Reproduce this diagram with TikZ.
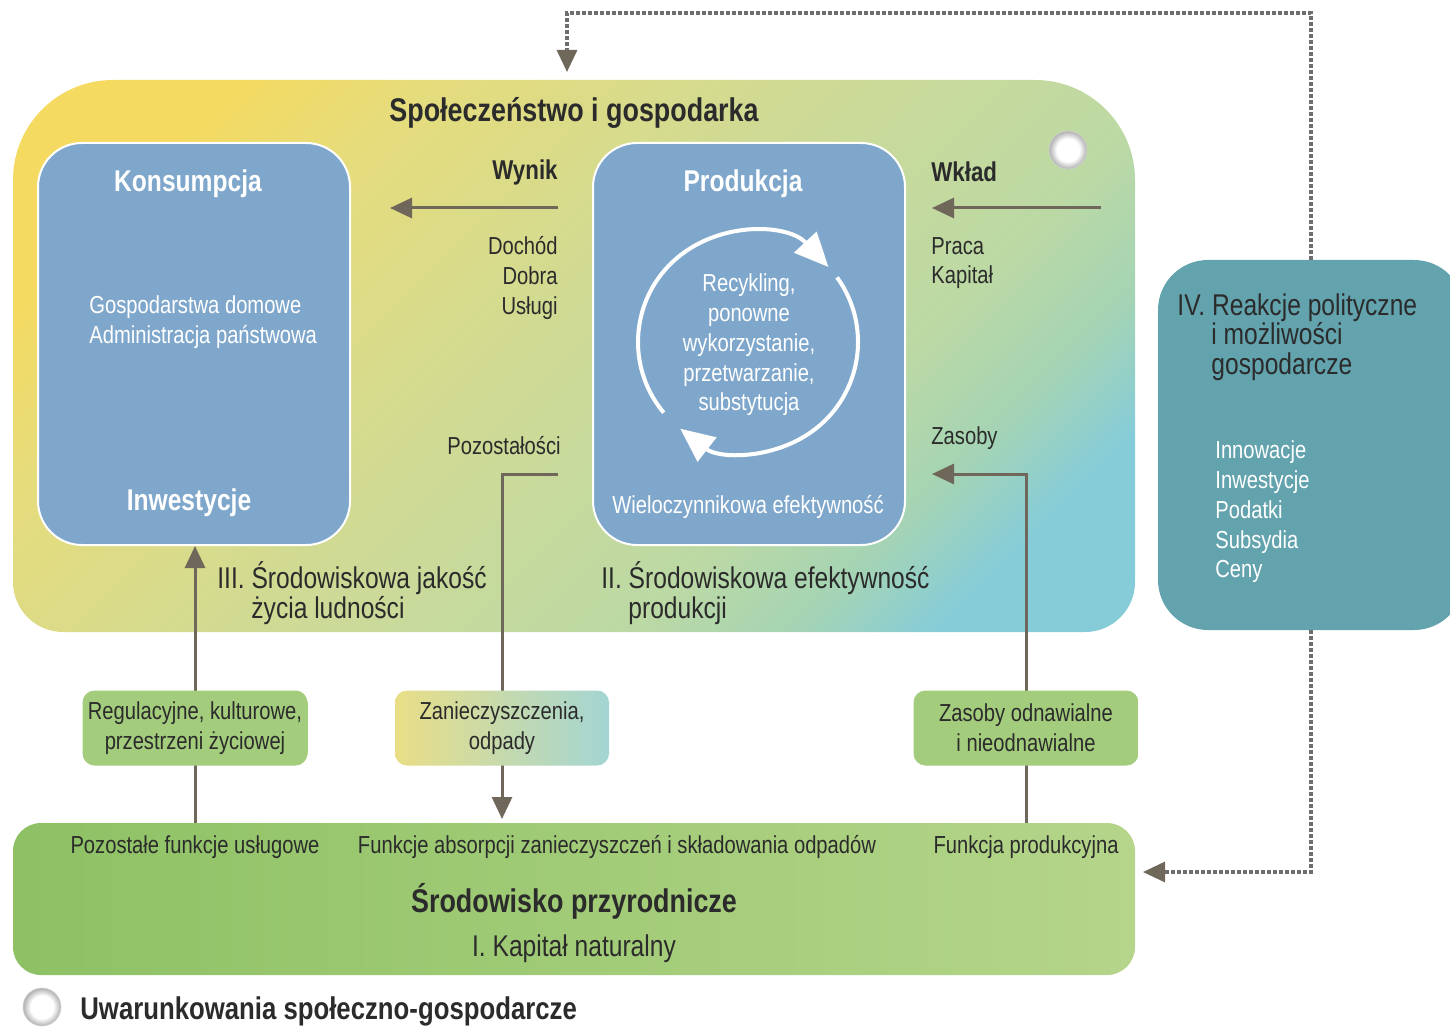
\documentclass[tikz,border=0pt]{standalone}
\usepackage{fontspec}
\setmainfont{Liberation Sans}[FakeStretch=0.82]
\usetikzlibrary{arrows.meta,calc}
\definecolor{cyel}{HTML}{F4DA60}
\definecolor{cy2}{HTML}{E6DC7C}
\definecolor{cgrn}{HTML}{CDDA97}
\definecolor{cg2}{HTML}{BCD9A4}
\definecolor{cgt}{HTML}{A5D4B4}
\definecolor{ctea}{HTML}{86CCD8}
\definecolor{cblue}{HTML}{7FA7CB}
\definecolor{cteal}{HTML}{62A3AE}
\definecolor{carr}{HTML}{6F6759}
\definecolor{ctxt}{HTML}{2B2B2B}
\definecolor{cdot}{HTML}{6E6E6E}
\definecolor{cgA}{HTML}{A3CC7C}
\definecolor{cgB}{HTML}{D2E5B5}
\definecolor{czY}{HTML}{E9DE86}
\definecolor{czM}{HTML}{DCE6BC}
\definecolor{czT}{HTML}{A3D5D3}
\definecolor{cbotL}{HTML}{8DC164}
\definecolor{cbotR}{HTML}{B5D58A}
\definecolor{cballe}{HTML}{B0B0B0}
\pgfdeclarehorizontalshading{mainsh}{100bp}{color(0bp)=(cyel); color(24bp)=(cyel); color(32bp)=(cy2); color(50bp)=(cgrn); color(64bp)=(cg2); color(71bp)=(cgt); color(77bp)=(ctea); color(100bp)=(ctea)}
\pgfdeclareradialshading{ballsh}{\pgfpoint{0bp}{0bp}}{color(0bp)=(white); color(15bp)=(white); color(25bp)=(cballe); color(50bp)=(cballe)}
\newcommand\lblf{\fontsize{12.3}{14.9}\selectfont}
\newcommand\medf{\fontsize{15}{14.8}\selectfont}
\newcommand\ttlf{\fontsize{15}{18}\selectfont\bfseries}
\newcommand\bigttlf{\fontsize{16.4}{18}\selectfont\bfseries}
\newcommand\subf{\fontsize{13.6}{16}\selectfont\bfseries}
\tikzset{
  bluebox/.style={draw=white, line width=1pt, fill=cblue, rounded corners=22pt, minimum width=156pt, minimum height=201pt, inner sep=0pt},
  smallbox/.style={rounded corners=6pt, minimum width=112.5pt, minimum height=37.5pt, align=center, inner sep=0pt, font=\lblf, text=ctxt},
  greenbox/.style={smallbox, left color=cgA, middle color=cgB, right color=cgA},
  arr/.style={draw=carr, line width=1.5pt, -{Triangle[length=11pt,width=10pt]}},
  ln/.style={draw=carr, line width=1.5pt},
  dotarr/.style={draw=cdot, line width=1.6pt, dash pattern=on 1.6pt off 1.4pt, -{Triangle[length=11pt,width=10pt,color=carr]}},
  cyc/.style={draw=white, line width=2pt, -{Triangle[length=17pt,width=15pt]}},
  lbl/.style={font=\lblf, text=ctxt, inner sep=0pt},
  wlbl/.style={font=\lblf, text=white, inner sep=0pt},
  med/.style={font=\medf, text=ctxt, inner sep=0pt},
  ttl/.style={font=\ttlf, text=ctxt, inner sep=0pt},
  bttl/.style={font=\bigttlf, text=ctxt, inner sep=0pt},
  wttl/.style={font=\ttlf, text=white, inner sep=0pt},
  sub/.style={font=\subf, text=ctxt, inner sep=0pt},
  ball/.style={shading=ballsh, draw=gray!35, line width=0.3pt}
}
\begin{document}
\begin{tikzpicture}[x=0.5pt, y=-0.5pt]
\useasboundingbox (0,0) rectangle (1450,1027);

% main box
\shade[shading=mainsh, shading angle=-45]
  (13,400) [rounded corners=25pt] -- (13,632) -- (1135,632) -- (1135,400)
  [rounded corners=50pt] -- (1135,80) -- (13,80) -- (13,400) -- cycle;
\node[bttl] (sg) at (574,113) {Społeczeństwo i gospodarka};
\shade[ball] (1068,150) circle[radius=9.5pt];

% blue boxes
\node[bluebox] (kons) at (194,344) {};
\node[bluebox] (prod) at (749,344) {};
\node[wttl] (konst) at (188,184) {Konsumpcja};
\node[wlbl, anchor=west, align=left] (gosp) at (89,322) {Gospodarstwa domowe\\Administracja państwowa};
\node[wttl] (inw) at (189,503) {Inwestycje};
\node[wttl] (prodt) at (743,184) {Produkcja};
\node[wlbl] (wiel) at (748,507) {Wieloczynnikowa efektywność};

% cycle
\coordinate (cc) at (748,342);
\node[wlbl, align=center] (rec) at (749,345) {Recykling,\\ponowne\\wykorzystanie,\\przetwarzanie,\\substytucja};
\draw[cyc] ([shift={(220:55pt)}]cc) arc[start angle=220, end angle=43, radius=55pt];
\draw[cyc] ([shift={(36:55pt)}]cc) arc[start angle=36, end angle=-128, radius=55pt];

% labels in main box
\node[sub, anchor=east] (wyn) at (558,172) {Wynik};
\node[lbl, anchor=east, align=right] (doch) at (558,278) {Dochód\\Dobra\\Usługi};
\node[sub, anchor=west] (wkl) at (931,172) {Wkład};
\node[lbl, anchor=west, align=left] (prac) at (931,263) {Praca\\Kapitał};
\node[lbl, anchor=east] (pozl) at (561,446) {Pozostałości};
\node[lbl, anchor=west] (zasl) at (931,438) {Zasoby};
\node[med, anchor=west, align=left] (iii) at (217,593) {III. Środowiskowa jakość\\\hspace*{17pt}życia ludności};
\node[med, anchor=west, align=left] (ii) at (601,593) {II. Środowiskowa efektywność\\\hspace*{13.5pt}produkcji};

% IV box
\node[fill=cteal, rounded corners=25pt, minimum width=153pt, minimum height=185pt, inner sep=0pt] (iv) at (1311,445) {};
\node[med, anchor=west, align=left, text=ctxt] (ivt) at (1177,337) {IV. Reakcje polityczne\\\hspace*{17pt}i możliwości\\\hspace*{17pt}gospodarcze};
\node[wlbl, anchor=west, align=left] (ivi) at (1215,512) {Innowacje\\Inwestycje\\Podatki\\Subsydia\\Ceny};

% free ends
\coordinate (wynA) at (558,208);
\coordinate (wynB) at (390,208);
\coordinate (wklA) at (1101,208);
\coordinate (wklB) at (932,208);
\coordinate (pozA) at (558,474);
\coordinate (zasB) at (932,474);
\coordinate (topL) at (567,13);
\coordinate (topT) at (567,72);
\coordinate (botT) at (1143,872);

% small boxes positions
\path (195,728) coordinate (regc) (502,728) coordinate (zanc) (1026,728) coordinate (zasc);

% arrows
\draw[arr] (wynA) -- (wynB);
\draw[arr] (wklA) -- (wklB);
\draw[ln] (195,823) -- (regc);
\draw[arr] (regc) -- (kons.south -| regc);
\draw[ln] (pozA) -| (zanc);
\draw[arr] (zanc) -- (502,819);
\draw[ln] (1026,823) -- (zasc);
\draw[arr] (zasc) |- (zasB);

% small boxes
\node[greenbox] (reg) at (regc) {Regulacyjne, kulturowe,\\przestrzeni życiowej};
\node[smallbox, minimum width=107pt, shading=axis, shading angle=-25, left color=czY, middle color=czM, right color=czT] (zan) at (zanc) {Zanieczyszczenia,\\odpady};
\node[greenbox] (zas) at (zasc) {Zasoby odnawialne\\i nieodnawialne};

% bottom box
\node[rounded corners=14pt, minimum width=561pt, minimum height=76pt, inner sep=0pt, left color=cbotL, right color=cbotR] (bot) at (574,899) {};
\node[lbl] (pfu) at (195,847) {Pozostałe funkcje usługowe};
\node[lbl] (fab) at (617,847) {Funkcje absorpcji zanieczyszczeń i składowania odpadów};
\node[lbl] (fpr) at (1026,847) {Funkcja produkcyjna};
\node[bttl] (sp) at (574,901) {Środowisko przyrodnicze};
\node[med] (kn) at (574,949) {I. Kapitał naturalny};

% dotted feedback
\draw[dotarr] (iv.north) |- (topL) -- (topT);
\draw[dotarr] (iv.south) |- (botT);

% legend
\shade[ball] (42,1007) circle[radius=9.5pt];
\node[ttl, font=\fontsize{15.7}{18}\selectfont\bfseries, anchor=west] (leg) at (80,1011) {Uwarunkowania społeczno-gospodarcze};
\end{tikzpicture}
\end{document}
